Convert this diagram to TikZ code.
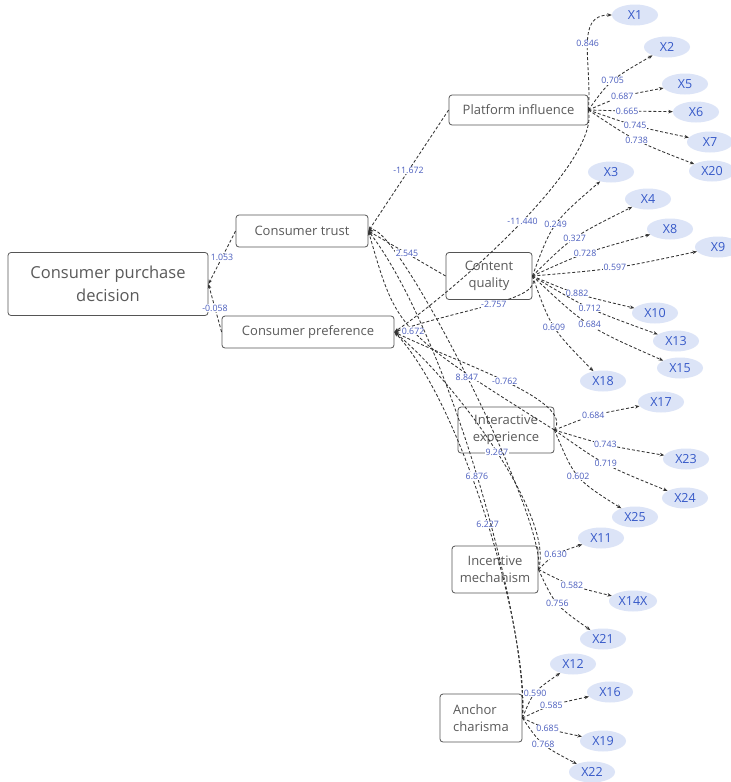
\documentclass[tikz,border=0pt]{standalone}
\usepackage{fontspec}
\setmainfont{Open Sans}
\usetikzlibrary{arrows.meta,shapes.geometric}
\definecolor{boxc}{HTML}{555555}
\definecolor{txtc}{HTML}{5A5A5A}
\definecolor{ellc}{HTML}{DCE4F7}
\definecolor{xtc}{HTML}{3558C8}
\definecolor{lblc}{HTML}{4A5DBE}
\definecolor{linec}{HTML}{333333}
\begin{document}
\begin{tikzpicture}[x=1pt,y=-1pt,
 box/.style={draw=boxc, line width=0.8pt, rounded corners=3pt, text=txtc, inner sep=0pt, align=center, font=\fontsize{13}{16.5}\selectfont},
 ind/.style={ellipse, fill=ellc, text=xtc, minimum width=46pt, minimum height=21pt, inner sep=0pt, font=\fontsize{12.5}{14}\selectfont},
 conn/.style={draw=linec, dash pattern=on 3pt off 2pt, line width=0.85pt, -{Stealth[length=4.5pt,width=3.5pt]}},
 lbl/.style={fill=white, text=lblc, inner sep=0.6pt, font=\fontsize{8.8}{9}\selectfont},
]
\useasboundingbox (0,0) rectangle (731,782);
\fill[white] (0,0) rectangle (731,782);

% construct boxes
\node[box, minimum width=200pt, minimum height=63pt, font=\fontsize{16.5}{23}\selectfont] (dec) at (108,284) {Consumer purchase\\decision};
\node[box, minimum width=132pt, minimum height=32pt] (tru) at (302,231) {Consumer trust};
\node[box, minimum width=172pt, minimum height=32pt] (pre) at (308,332) {Consumer preference};
\node[box, minimum width=139pt, minimum height=30pt] (pla) at (518.5,110) {Platform influence};
\node[box, minimum width=86pt, minimum height=47pt] (con) at (489,276) {Content\\quality};
\node[box, minimum width=96pt, minimum height=46pt] (int) at (506,430) {Interactive\\experience};
\node[box, minimum width=86pt, minimum height=47pt] (inc) at (495,569.5) {Incentive\\mechanism};
\node[box, minimum width=82pt, minimum height=48pt, align=left] (anc) at (481,718) {Anchor\\charisma};

% indicators
\node[ind] (x1) at (635,15) {X1};
\node[ind] (x2) at (667,47) {X2};
\node[ind] (x5) at (685,84) {X5};
\node[ind] (x6) at (696,112) {X6};
\node[ind] (x7) at (710,142) {X7};
\node[ind] (x20) at (712,171) {X20};
\node[ind] (x3) at (611,172) {X3};
\node[ind] (x4) at (648,199) {X4};
\node[ind] (x8) at (670,229) {X8};
\node[ind] (x9) at (718,247) {X9};
\node[ind] (x10) at (655,313) {X10};
\node[ind] (x13) at (676,341) {X13};
\node[ind] (x15) at (680,368) {X15};
\node[ind] (x18) at (603,381) {X18};
\node[ind] (x17) at (661,402) {X17};
\node[ind] (x23) at (686,459) {X23};
\node[ind] (x24) at (685,498) {X24};
\node[ind] (x25) at (635,517) {X25};
\node[ind] (x11) at (601,538) {X11};
\node[ind, minimum width=48pt] (x14) at (633,601) {X14X};
\node[ind] (x21) at (603,639) {X21};
\node[ind] (x12) at (573,664) {X12};
\node[ind] (x16) at (610,692) {X16};
\node[ind] (x19) at (603,741) {X19};
\node[ind] (x22) at (592,772) {X22};

% structural paths
\draw[conn] (pla.east) .. controls (600,160) and (466,282) .. (pre.east) node[lbl,pos=.5]{-11.440};
\draw[conn] (con.east) .. controls (545,300) and (463,308) .. (pre.east) node[lbl,pos=.5]{-2.757};
\draw[conn] (int.east) .. controls (575,400) and (455,362) .. (pre.east) node[lbl,pos=.5]{-0.762};
\draw[conn] (inc.east) .. controls (555,520) and (459,385) .. (pre.east) node[lbl,pos=.5]{9.267};
\draw[conn] (anc.east) .. controls (530,640) and (465,407) .. (pre.east) node[lbl,pos=.5]{6.227};
\draw[conn] (int.east) .. controls (397,331) .. (tru.east) node[lbl,pos=.5]{0.672};
\draw[conn] (inc.east) .. controls (548,520) and (395,219) .. (tru.east) node[lbl,pos=.5]{8.847};
\draw[conn] (anc.east) .. controls (528,620) and (447,333) .. (tru.east) node[lbl,pos=.5]{6.876};
\draw[conn] (pla.west) -- (tru.east) node[lbl,pos=.5]{-11.672};
\draw[conn] (con.west) -- (tru.east) node[lbl,pos=.5]{2.545};
\draw[conn] (tru.west) -- (dec.east) node[lbl,pos=.5]{1.053};
\draw[conn] (pre.west) -- (dec.east) node[lbl,pos=.5]{-0.058};

% indicator paths
\draw[conn] (pla.east) .. controls (592,60) and (575,15) .. (x1) node[lbl,pos=.5]{0.846};
\draw[conn] (pla.east) .. controls (610,80) .. (x2) node[lbl,pos=.5]{0.705};
\draw[conn] (pla.east) .. controls (621,96) .. (x5) node[lbl,pos=.5]{0.687};
\draw[conn] (pla.east) .. controls (626,111) .. (x6) node[lbl,pos=.5]{0.665};
\draw[conn] (pla.east) .. controls (634,126) .. (x7) node[lbl,pos=.5]{0.745};
\draw[conn] (pla.east) .. controls (635,141) .. (x20) node[lbl,pos=.5]{0.738};

\draw[conn] (con.east) .. controls (552,223) .. (x3) node[lbl,pos=.5]{0.249};
\draw[conn] (con.east) .. controls (572,237) .. (x4) node[lbl,pos=.5]{0.327};
\draw[conn] (con.east) .. controls (583,253) .. (x8) node[lbl,pos=.5]{0.728};
\draw[conn] (con.east) .. controls (615,269) .. (x9) node[lbl,pos=.5]{0.597};
\draw[conn] (con.east) .. controls (575,294) .. (x10) node[lbl,pos=.5]{0.882};
\draw[conn] (con.east) .. controls (588,309) .. (x13) node[lbl,pos=.5]{0.712};
\draw[conn] (con.east) .. controls (587,327) .. (x15) node[lbl,pos=.5]{0.684};
\draw[conn] (con.east) .. controls (551,328) .. (x18) node[lbl,pos=.5]{0.609};

\draw[conn] (int.east) .. controls (592,415) .. (x17) node[lbl,pos=.5]{0.684};
\draw[conn] (int.east) .. controls (604,445) .. (x23) node[lbl,pos=.5]{0.743};
\draw[conn] (int.east) .. controls (604,465) .. (x24) node[lbl,pos=.5]{0.719};
\draw[conn] (int.east) .. controls (575,479) .. (x25) node[lbl,pos=.5]{0.602};

\draw[conn] (inc.east) .. controls (554,554) .. (x11) node[lbl,pos=.5]{0.630};
\draw[conn] (inc.east) .. controls (571,586) .. (x14) node[lbl,pos=.5]{0.582};
\draw[conn] (inc.east) .. controls (555,605) .. (x21) node[lbl,pos=.5]{0.756};

\draw[conn] (anc.east) .. controls (533,692) .. (x12) node[lbl,pos=.5]{0.590};
\draw[conn] (anc.east) .. controls (550,705) .. (x16) node[lbl,pos=.5]{0.585};
\draw[conn] (anc.east) .. controls (546,729) .. (x19) node[lbl,pos=.5]{0.685};
\draw[conn] (anc.east) .. controls (541,745) .. (x22) node[lbl,pos=.5]{0.768};
\end{tikzpicture}
\end{document}
